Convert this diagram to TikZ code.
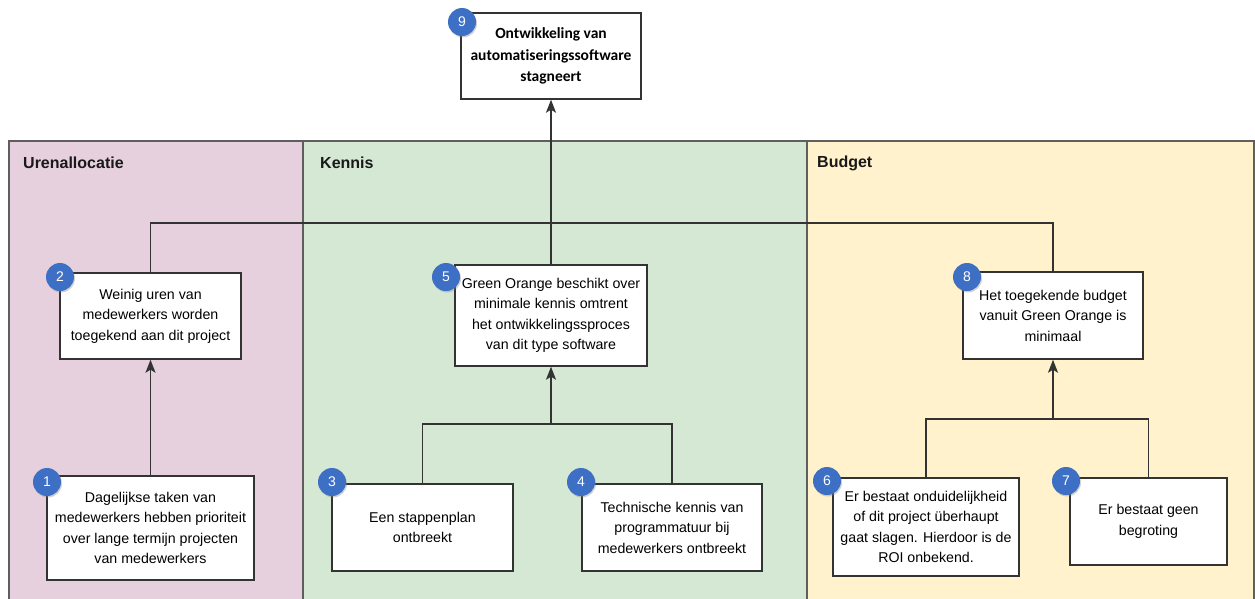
\documentclass[tikz,border=0pt]{standalone}
\usepackage{fontspec}
\setmainfont{Liberation Sans}
\newfontfamily\titlefont[Ligatures=NoCommon]{Carlito}
\usetikzlibrary{arrows.meta,shadows}

\definecolor{lanepink}{HTML}{E6D0DE}
\definecolor{lanegreen}{HTML}{D5E8D4}
\definecolor{laneyellow}{HTML}{FFF2CC}
\definecolor{laneline}{HTML}{5F5F5F}
\definecolor{boxline}{HTML}{333333}
\definecolor{badgeblue}{HTML}{3D6FC5}

\tikzset{
  lane/.style={draw=laneline, line width=1.2pt},
  lanetitle/.style={anchor=west, font=\fontsize{16}{18}\selectfont\bfseries, text=black!90, inner sep=0pt},
  causebox/.style={draw=boxline, fill=white, line width=1.4pt, align=center,
    font=\fontsize{14.2}{20.5}\selectfont, inner sep=2pt},
  topbox/.style={causebox, font=\titlefont\fontsize{15.5}{21.5}\selectfont\bfseries},
  badge/.style={circle, fill=badgeblue, minimum size=28pt, inner sep=0pt,
    text=white, font=\fontsize{14}{16}\selectfont,
    drop shadow={opacity=0.35, shadow xshift=1pt, shadow yshift=-1.5pt}},
  link/.style={draw=boxline, line width=1.5pt},
  arrowlink/.style={link, -{Stealth[length=13pt,width=10pt,inset=3pt]}},
}

\begin{document}
\begin{tikzpicture}[x=1pt,y=-1pt]
\useasboundingbox (0,0) rectangle (1255,598);

% swimlanes
\begin{scope}
\clip (0,0) rectangle (1255,598);
\draw[lane, fill=lanepink]   (9,141)   rectangle (303,610);
\draw[lane, fill=lanegreen]  (303,141) rectangle (807,610);
\draw[lane, fill=laneyellow] (807,141) rectangle (1254,610);
\end{scope}
\node[lanetitle] (tUren)   at (23,163)  {Urenallocatie};
\node[lanetitle] (tKennis) at (320,163) {Kennis};
\node[lanetitle] (tBudget) at (817,163) {Budget};

% top effect
\node[topbox, minimum width=180pt, minimum height=86pt] (b9) at (551,56)
  {Ontwikkeling van\\automatiseringssoftware\\stagneert};

% Urenallocatie
\node[causebox, minimum width=181pt, minimum height=86pt] (b2) at (150.5,316)
  {Weinig uren van\\medewerkers worden\\toegekend aan dit project};
\node[causebox, minimum width=207pt, minimum height=104pt] (b1) at (150.5,528)
  {Dagelijkse taken van\\medewerkers hebben prioriteit\\over lange termijn projecten\\van medewerkers};

% Kennis
\node[causebox, minimum width=192pt, minimum height=101pt] (b5) at (551,315.5)
  {Green Orange beschikt over\\minimale kennis omtrent\\het ontwikkelingssproces\\van dit type software};
\node[causebox, minimum width=181pt, minimum height=87pt] (b3) at (422.5,527.5)
  {Een stappenplan\\ontbreekt};
\node[causebox, minimum width=180pt, minimum height=87pt] (b4) at (672,527.5)
  {Technische kennis van\\programmatuur bij\\medewerkers ontbreekt};

% Budget
\node[causebox, minimum width=180pt, minimum height=87pt] (b8) at (1053,315.5)
  {Het toegekende budget\\vanuit Green Orange is\\minimaal};
\node[causebox, minimum width=186pt, minimum height=98pt] (b6) at (926,527)
  {Er bestaat onduidelijkheid\\of dit project überhaupt\\gaat slagen. Hierdoor is de\\ROI onbekend.};
\node[causebox, minimum width=157pt, minimum height=87pt] (b7) at (1148.5,521.5)
  {Er bestaat geen\\begroting};

% junction points
\coordinate (j9) at (551,223);
\coordinate (j5) at (551,424);
\coordinate (j8) at (1053,419);

% connectors
\draw[arrowlink] (b5.north) -- (b9.south);
\draw[link] (b2.north) |- (j9) -| (b8.north);
\draw[arrowlink] (b1.north) -- (b2.south);
\draw[link] (b3.north) |- (j5);
\draw[link] (b4.north) |- (j5);
\draw[arrowlink] (j5) -- (b5.south);
\draw[link] (b6.north) |- (j8);
\draw[link] (b7.north) |- (j8);
\draw[arrowlink] (j8) -- (b8.south);

% numbered badges
\node[badge] (n9) at (462,22)  {9};
\node[badge] (n2) at (60,277)  {2};
\node[badge] (n1) at (47,482)  {1};
\node[badge] (n5) at (446,277) {5};
\node[badge] (n3) at (332,482) {3};
\node[badge] (n4) at (581,482) {4};
\node[badge] (n8) at (967,277) {8};
\node[badge] (n6) at (827,481) {6};
\node[badge] (n7) at (1066,481) {7};
\end{tikzpicture}
\end{document}
